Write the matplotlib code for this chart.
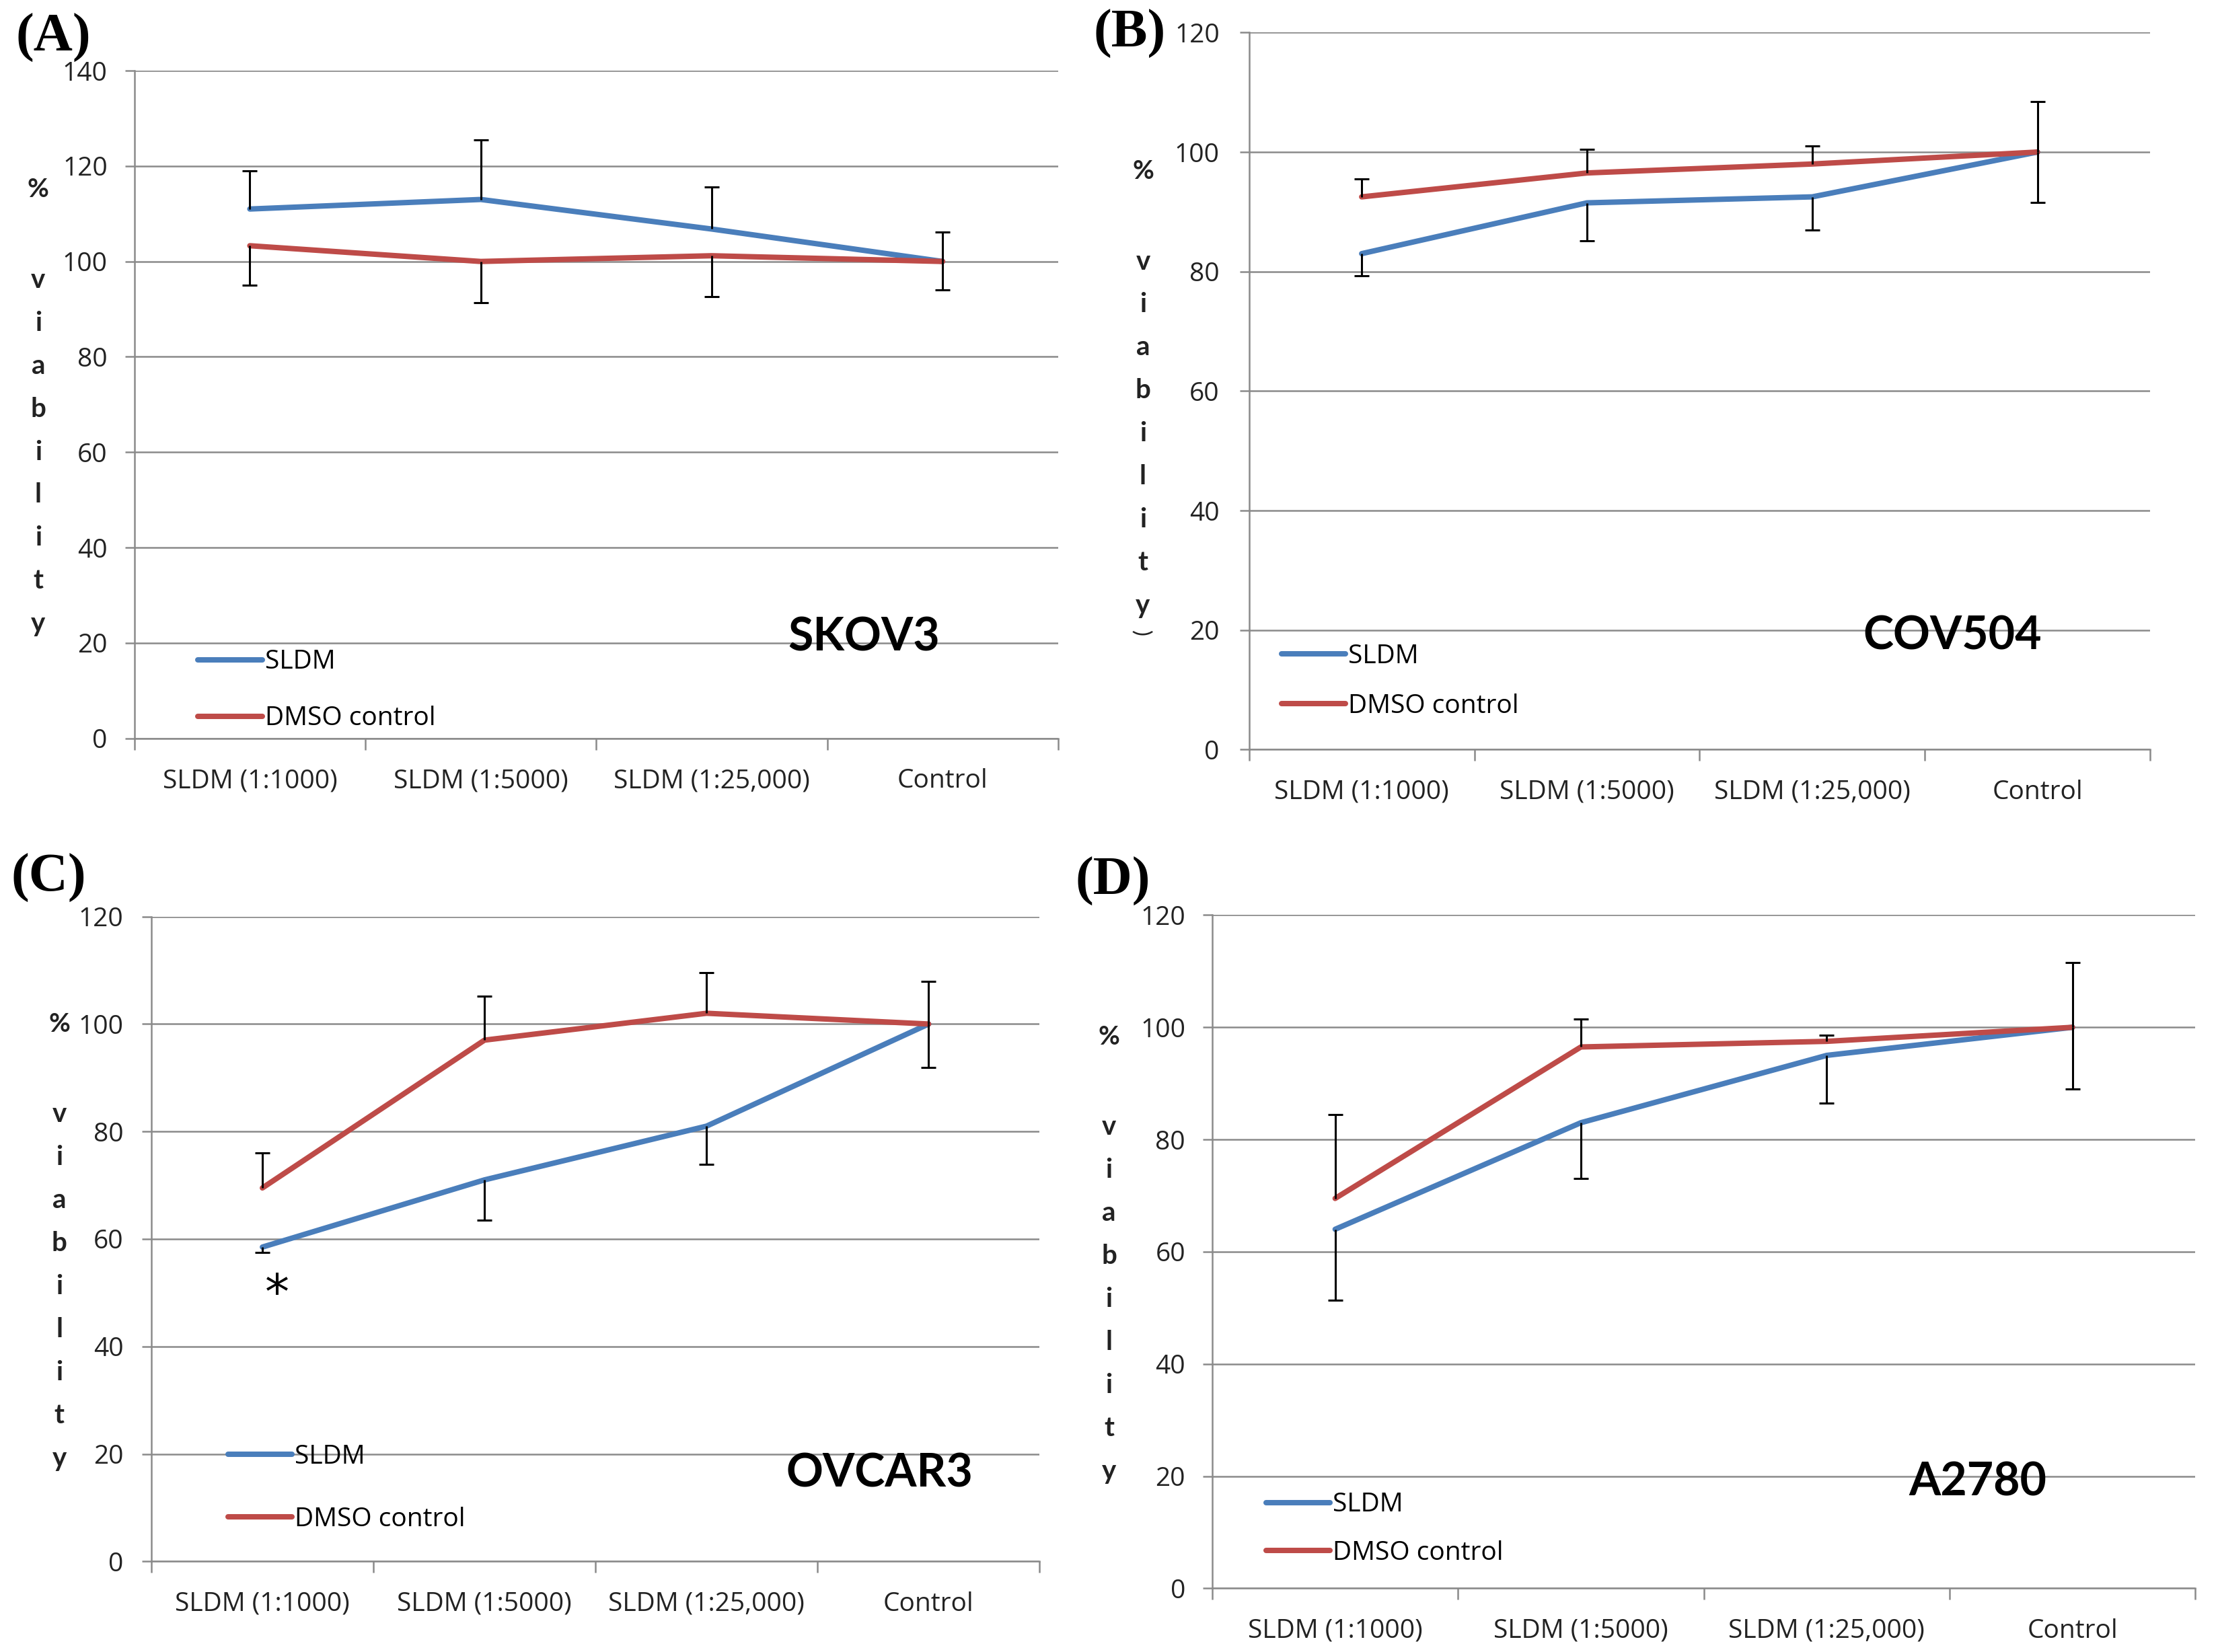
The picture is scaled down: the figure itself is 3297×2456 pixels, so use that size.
import numpy as np
import matplotlib.pyplot as plt

# category labels shared by all four panels
categories = ['SLDM (1:1000)', 'SLDM (1:5000)', 'SLDM (1:25,000)', 'Control']
series_names = ['SLDM', 'DMSO control']
cell_lines = ['SKOV3', 'COV504', 'OVCAR3', 'A2780']
panel_tags = ['(A)', '(B)', '(C)', '(D)']

# % viability
skov3_sldm = [111.0, 113.0, 106.8, 100.0]
skov3_dmso = [103.3, 100.0, 101.2, 100.0]
cov504_sldm = [83.0, 91.5, 92.5, 100.0]
cov504_dmso = [92.5, 96.5, 98.0, 100.0]
ovcar3_sldm = [58.5, 71.0, 81.0, 100.0]
ovcar3_dmso = [69.5, 97.0, 102.0, 100.0]
a2780_sldm = [64.0, 83.0, 95.0, 100.0]
a2780_dmso = [69.5, 96.5, 97.5, 100.0]

# error bar lengths (one-sided, drawn away from the other curve)
skov3_sldm_err = [8.0, 12.5, 8.8, 6.2]
skov3_dmso_err = [8.3, 8.6, 8.6, 6.0]
cov504_sldm_err = [3.7, 6.3, 5.6, 8.4]
cov504_dmso_err = [3.0, 4.0, 3.0, 8.5]
ovcar3_sldm_err = [1.0, 7.5, 7.1, 8.1]
ovcar3_dmso_err = [6.5, 8.2, 7.6, 7.9]
a2780_sldm_err = [12.6, 10.0, 8.5, 11.0]
a2780_dmso_err = [15.0, 5.0, 1.1, 11.5]

# +1 means the SLDM bar goes up and the DMSO bar goes down
sldm_err_sign = [1, -1, -1, -1]
y_max = [140, 120, 120, 120]

sldm_data = [skov3_sldm, cov504_sldm, ovcar3_sldm, a2780_sldm]
dmso_data = [skov3_dmso, cov504_dmso, ovcar3_dmso, a2780_dmso]
sldm_errs = [skov3_sldm_err, cov504_sldm_err, ovcar3_sldm_err, a2780_sldm_err]
dmso_errs = [skov3_dmso_err, cov504_dmso_err, ovcar3_dmso_err, a2780_dmso_err]

BLUE = '#4A7EBB'
RED = '#BE4B48'
GRID = '#8a8a8a'
TXT = '#222222'
FS = 14
W, H = 1568.0, 1168.0  # layout measured on a 1568 px wide copy


def fx(px):
    return px / W


def fy(py):
    return 1 - py / H


# axes boxes: left, top, right, bottom in layout pixels
boxes = [(95, 50, 748, 522), (883, 23, 1520, 530),
         (107, 648, 735, 1104), (857, 647, 1552, 1123)]
ytick_pad = [9.4, 10.8, 10.0, 9.4]
legend_pos = [(140, 459, 1.19), (906, 455, 0.92), (161, 1021, 1.41), (895, 1055, 0.865)]
cell_pos = [(611, 451), (1380, 450), (622, 1042), (1398, 1048)]
tag_pos = [(11, 27), (773, 24), (8, 621), (760, 623)]
ylab_pos = [(27, 134, 198), (808, 121, 185), (42, 724, 788), (784, 733, 797)]

fig = plt.figure(figsize=(16.485, 12.28), dpi=200)
x = np.arange(1, len(categories) + 1)

for i in range(4):
    l, t, r, b = boxes[i]
    ax = fig.add_axes([fx(l), fy(b), fx(r) - fx(l), fy(t) - fy(b)])

    sldm = np.array(sldm_data[i])
    dmso = np.array(dmso_data[i])
    s = sldm_err_sign[i]

    h1, = ax.plot(x, sldm, color=BLUE, lw=2.9, zorder=3, label=series_names[0],
                  solid_capstyle='round', solid_joinstyle='round')
    h2, = ax.plot(x, dmso, color=RED, lw=2.9, zorder=3, label=series_names[1],
                  solid_capstyle='round', solid_joinstyle='round')

    # one-sided error bars with a cap at the far end only
    for vals, err, sign in [(sldm, sldm_errs[i], s), (dmso, dmso_errs[i], -s)]:
        ends = vals + sign * np.array(err)
        ax.vlines(x, vals, ends, color='black', lw=1.1, zorder=4)
        ax.plot(x, ends, ls='none', marker='_', ms=8, mew=1.1, color='black', zorder=4)

    ax.set_xlim(0.5, len(categories) + 0.5)
    ax.set_ylim(0, y_max[i])
    ax.set_yticks(np.arange(0, y_max[i] + 1, 20))
    ax.set_xticks(x)
    ax.set_xticklabels(categories)
    ax.set_xticks(np.arange(0.5, len(categories) + 1), minor=True)
    ax.tick_params(axis='x', which='major', length=0, pad=16, labelsize=FS,
                   labelcolor=TXT)
    ax.tick_params(axis='x', which='minor', length=6, width=0.9, color=GRID)
    ax.tick_params(axis='y', length=5, width=0.9, color=GRID, pad=ytick_pad[i],
                   labelsize=FS, labelcolor=TXT)
    for lab in ax.get_xticklabels() + ax.get_yticklabels():
        lab.set_fontfamily('Open Sans')

    ax.yaxis.grid(True, color=GRID, lw=0.9)
    ax.set_axisbelow(True)
    for side in ['top', 'right']:
        ax.spines[side].set_visible(False)
    for side in ['left', 'bottom']:
        ax.spines[side].set_color(GRID)
        ax.spines[side].set_linewidth(0.9)

    lx, ly, spacing = legend_pos[i]
    ax.legend(handles=[h1, h2], loc='upper left', bbox_to_anchor=(fx(lx), fy(ly)),
              bbox_transform=fig.transFigure, frameon=False, borderpad=0,
              borderaxespad=0, handlelength=2.45, handletextpad=0.1,
              labelspacing=spacing, prop={'family': 'Open Sans', 'size': FS})

    if i == 2:
        ax.text(1.067, 49.6, '*', fontsize=26, ha='center', va='center',
                family='DejaVu Sans', color='black')

    cx, cy = cell_pos[i]
    fig.text(fx(cx), fy(cy), cell_lines[i], fontsize=24.5, fontweight='bold',
             family='Lato', ha='center', va='center', color='black')

    tx, ty = tag_pos[i]
    fig.text(fx(tx), fy(ty), panel_tags[i], fontsize=29, fontweight='bold',
             family='Liberation Serif', ha='left', va='center', color='black')

    # stacked "% viability" axis title
    yx, ypct, yv = ylab_pos[i]
    fig.text(fx(yx), fy(ypct), '%', fontsize=14, fontweight='bold', family='Lato',
             ha='center', va='center', color=TXT)
    for k, ch in enumerate('viability'):
        fig.text(fx(yx), fy(yv + k * 30.4), ch, fontsize=14.5, fontweight='bold',
                 family='Lato', ha='center', va='center', color=TXT)
    if i == 1:
        fig.text(fx(yx), fy(yv + 9 * 30.4 - 12), '(', fontsize=12, rotation=90,
                 family='Lato', ha='center', va='center', color=TXT)

fig.savefig('out.png', dpi=200, facecolor='white')
